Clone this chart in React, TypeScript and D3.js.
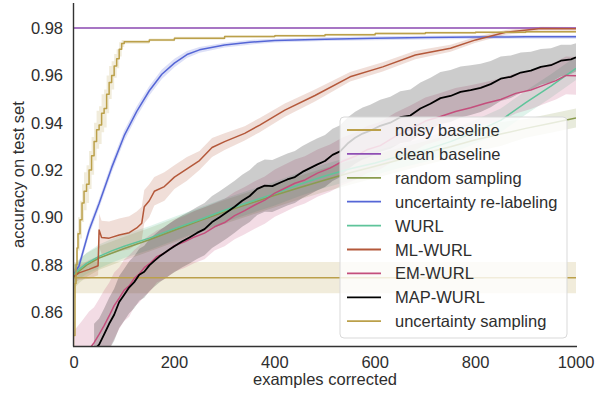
import React from "react";
import * as d3 from "d3";

type P = [number, number, number]; // [examples corrected, mean accuracy, half band width]

const X_TICKS = [0, 200, 400, 600, 800, 1000];
const Y_TICKS = [0.86, 0.88, 0.9, 0.92, 0.94, 0.96, 0.98];

const noisyBaseline: P[] = [[0, 0.8745, 0.0066], [1000, 0.8745, 0.0066]];
const cleanBaseline: P[] = [[0, 0.98, 0.0003], [1000, 0.98, 0.0003]];

const randomSampling: P[] = [
  [0, 0.8748, 0.005], [10, 0.8772, 0.005], [25, 0.8798, 0.005], [50, 0.8828, 0.005], [100, 0.8868, 0.005],
  [150, 0.8905, 0.005], [200, 0.8945, 0.005], [250, 0.8985, 0.005], [300, 0.9023, 0.005], [350, 0.9058, 0.005],
  [400, 0.9093, 0.005], [450, 0.9126, 0.005], [500, 0.9158, 0.005], [550, 0.9188, 0.005], [600, 0.9216, 0.005],
  [650, 0.9244, 0.005], [700, 0.9272, 0.005], [750, 0.9298, 0.005], [800, 0.9328, 0.005], [850, 0.9352, 0.005],
  [900, 0.9376, 0.004], [950, 0.9398, 0.004], [1000, 0.942, 0.004],
];

const uncertaintyRelabeling: P[] = [
  [0, 0.876, 0.002], [10, 0.8795, 0.002], [30, 0.8945, 0.002], [50, 0.9058, 0.002], [75, 0.921, 0.0022],
  [100, 0.9345, 0.0022], [125, 0.9448, 0.0022], [150, 0.9535, 0.002], [175, 0.9605, 0.002], [200, 0.9652, 0.0018],
  [225, 0.9688, 0.0015], [250, 0.9708, 0.0012], [300, 0.9728, 0.001], [350, 0.974, 0.001], [400, 0.9747, 0.0008],
  [500, 0.9753, 0.0008], [600, 0.9757, 0.0008], [700, 0.976, 0.0008], [800, 0.9762, 0.0008], [900, 0.9763, 0.0008],
  [1000, 0.9763, 0.0008],
];

const wurl: P[] = [
  [0, 0.876, 0.004], [10, 0.878, 0.004], [25, 0.8805, 0.0045], [50, 0.8835, 0.005], [75, 0.8858, 0.005],
  [100, 0.8878, 0.005], [150, 0.8912, 0.005], [200, 0.8952, 0.005], [250, 0.899, 0.005], [300, 0.903, 0.005],
  [350, 0.9065, 0.005], [400, 0.91, 0.005], [450, 0.914, 0.005], [500, 0.9175, 0.005], [550, 0.9205, 0.005],
  [600, 0.923, 0.005], [650, 0.926, 0.005], [700, 0.9285, 0.005], [750, 0.932, 0.005], [800, 0.9362, 0.005],
  [850, 0.941, 0.005], [900, 0.9485, 0.005], [950, 0.9555, 0.005], [1000, 0.963, 0.005],
];

const mlWurl: P[] = [
  [0, 0.875, 0.003], [10, 0.8765, 0.003], [30, 0.878, 0.004], [48, 0.8795, 0.004], [50, 0.8946, 0.007],
  [55, 0.8915, 0.007], [70, 0.8912, 0.007], [90, 0.8925, 0.007], [110, 0.8935, 0.007], [125, 0.8955, 0.007],
  [135, 0.8975, 0.007], [140, 0.9045, 0.007], [150, 0.907, 0.007], [160, 0.911, 0.006], [180, 0.913, 0.006],
  [200, 0.917, 0.005], [225, 0.9205, 0.005], [250, 0.924, 0.004], [275, 0.9295, 0.004], [300, 0.932, 0.0035],
  [340, 0.9355, 0.003], [370, 0.939, 0.003], [420, 0.9453, 0.0028], [480, 0.9515, 0.0025], [550, 0.9594, 0.002],
  [615, 0.9636, 0.002], [680, 0.9686, 0.0018], [750, 0.9715, 0.0015], [800, 0.975, 0.0012], [860, 0.9782, 0.001],
  [930, 0.9798, 0.0008], [1000, 0.9797, 0.0008],
];

const emWurl: P[] = [
  [0, 0.836, 0.016], [15, 0.84, 0.016], [30, 0.8442, 0.016], [40, 0.847, 0.015], [50, 0.8505, 0.015],
  [60, 0.8542, 0.015], [70, 0.8583, 0.014], [80, 0.8627, 0.014], [90, 0.8658, 0.013], [100, 0.8692, 0.013],
  [110, 0.871, 0.013], [120, 0.8742, 0.012], [130, 0.876, 0.012], [140, 0.8787, 0.012], [150, 0.8803, 0.012],
  [165, 0.8834, 0.011], [180, 0.8848, 0.011], [200, 0.888, 0.011], [220, 0.8896, 0.011], [240, 0.8917, 0.011],
  [260, 0.8933, 0.011], [280, 0.896, 0.01], [300, 0.8978, 0.01], [320, 0.9007, 0.01], [340, 0.9028, 0.01],
  [360, 0.9052, 0.01], [380, 0.9073, 0.01], [400, 0.9102, 0.01], [420, 0.9123, 0.01], [440, 0.9144, 0.01],
  [460, 0.9158, 0.01], [485, 0.9187, 0.01], [510, 0.9208, 0.01], [535, 0.9237, 0.01], [560, 0.9258, 0.01],
  [585, 0.9287, 0.01], [610, 0.9303, 0.01], [640, 0.9342, 0.01], [670, 0.9373, 0.01], [700, 0.9407, 0.01],
  [730, 0.9426, 0.01], [760, 0.9447, 0.01], [790, 0.9463, 0.0095], [820, 0.9482, 0.009], [850, 0.9498, 0.009],
  [880, 0.9524, 0.0085], [910, 0.9538, 0.008], [940, 0.9562, 0.008], [960, 0.9578, 0.008], [980, 0.96, 0.008],
  [1000, 0.9598, 0.008],
];

const mapWurl: P[] = [
  [40, 0.844, 0.011], [50, 0.8462, 0.011], [60, 0.8505, 0.011], [70, 0.855, 0.011], [80, 0.8588, 0.011],
  [90, 0.8642, 0.011], [100, 0.8673, 0.011], [110, 0.8704, 0.011], [120, 0.8726, 0.011], [130, 0.8757, 0.011],
  [140, 0.877, 0.011], [150, 0.8797, 0.011], [160, 0.8816, 0.011], [170, 0.8834, 0.011], [180, 0.8849, 0.011],
  [190, 0.8864, 0.011], [200, 0.8878, 0.011], [215, 0.8898, 0.011], [230, 0.8915, 0.011], [245, 0.8934, 0.011],
  [260, 0.895, 0.011], [275, 0.898, 0.011], [290, 0.9, 0.011], [305, 0.9022, 0.011], [320, 0.9045, 0.011],
  [335, 0.907, 0.011], [350, 0.909, 0.011], [365, 0.912, 0.011], [380, 0.9134, 0.011], [395, 0.9132, 0.011],
  [410, 0.9146, 0.011], [425, 0.916, 0.011], [440, 0.917, 0.011], [455, 0.9192, 0.011], [470, 0.9208, 0.011],
  [485, 0.9224, 0.011], [500, 0.9238, 0.011], [515, 0.9264, 0.011], [530, 0.9279, 0.011], [545, 0.9312, 0.011],
  [560, 0.9336, 0.011], [575, 0.9354, 0.011], [590, 0.9366, 0.011], [610, 0.9387, 0.011], [630, 0.94, 0.011],
  [650, 0.9423, 0.011], [670, 0.943, 0.011], [690, 0.946, 0.011], [710, 0.948, 0.011], [730, 0.9504, 0.011],
  [750, 0.9513, 0.011], [770, 0.953, 0.0108], [790, 0.9538, 0.0105], [810, 0.9547, 0.0102], [830, 0.9563, 0.0098],
  [850, 0.9586, 0.0094], [870, 0.9594, 0.009], [890, 0.9612, 0.0085], [910, 0.962, 0.008], [930, 0.9636, 0.0076],
  [950, 0.9643, 0.0072], [970, 0.9662, 0.0067], [990, 0.9668, 0.0062], [1000, 0.9676, 0.006],
];

const uncertaintySampling: P[] = [
  [0, 0.85, 0.006], [2, 0.872, 0.006], [4, 0.88, 0.006], [6, 0.887, 0.007], [8, 0.893, 0.007],
  [12, 0.899, 0.008], [16, 0.906, 0.008], [20, 0.911, 0.008], [25, 0.914, 0.008], [30, 0.92, 0.008],
  [35, 0.926, 0.008], [40, 0.932, 0.008], [45, 0.937, 0.008], [50, 0.939, 0.008], [55, 0.944, 0.008],
  [60, 0.946, 0.008], [65, 0.952, 0.008], [70, 0.957, 0.007], [75, 0.96, 0.006], [80, 0.964, 0.005],
  [85, 0.967, 0.004], [90, 0.971, 0.003], [95, 0.9735, 0.0015], [100, 0.9742, 0.0008], [150, 0.975, 0.0006],
  [200, 0.9757, 0.0006], [300, 0.9764, 0.0005], [400, 0.9768, 0.0005], [500, 0.9772, 0.0005], [600, 0.9777, 0.0005],
  [700, 0.978, 0.0005], [800, 0.9782, 0.0005], [900, 0.9784, 0.0005], [1000, 0.9786, 0.0005],
];

const NAMES = [
  "noisy baseline", "clean baseline", "random sampling", "uncertainty re-labeling", "WURL",
  "ML-WURL", "EM-WURL", "MAP-WURL", "uncertainty sampling",
];
const COLORS = ["#bba04a", "#8f4fb4", "#8a9c4f", "#5566d6", "#5ec49a", "#b4583a", "#c44e7c", "#000000", "#bba04a"];
const DATA = [noisyBaseline, cleanBaseline, randomSampling, uncertaintyRelabeling, wurl, mlWurl, emWurl, mapWurl, uncertaintySampling];

const FONT = "'Liberation Sans', Arial, sans-serif";
const TEXT = "#2e2e2e";

export default function App() {
  const W = 612, H = 396;
  const L = 74, R = 576, T = 3, B = 346;
  const x = d3.scaleLinear().domain([0, 1000]).range([L, R]);
  const y = d3.scaleLinear().domain([0.8456, 0.9906]).range([B, T]);

  const curveFor = (i: number) => (i === 8 ? d3.curveStepAfter : d3.curveLinear);
  const lineGen = (i: number) => d3.line<P>().x(d => x(d[0])).y(d => y(d[1])).curve(curveFor(i));
  const areaGen = (i: number) =>
    d3.area<P>().x(d => x(d[0])).y0(d => y(d[1] - d[2])).y1(d => y(d[1] + d[2])).curve(curveFor(i));

  const legX = 340, legY = 117, legW = 227, legH = 221;
  const rowY = (i: number) => 130 + i * 23.9;

  return (
    <svg width={W} height={H} style={{ position: "absolute", left: 0, top: 0, background: "#fff" }}>
      <defs>
        <clipPath id="plot">
          <rect x={L} y={T} width={R - L} height={B - T} />
        </clipPath>
      </defs>
      <rect x={0} y={0} width={W} height={H} fill="#fff" />
      <g clipPath="url(#plot)">
        {DATA.map((d, i) => (
          <path key={"a" + i} d={areaGen(i)(d) || ""} fill={COLORS[i]} fillOpacity={0.2} stroke="none" />
        ))}
        {DATA.map((d, i) => (
          <path key={"l" + i} d={lineGen(i)(d) || ""} fill="none" stroke={COLORS[i]}
            strokeWidth={i === 7 ? 1.8 : 1.5} strokeLinejoin="round" />
        ))}
      </g>
      <line x1={L - 0.5} x2={L - 0.5} y1={T} y2={B + 0.5} stroke="#333" strokeWidth={1.4} />
      <line x1={L - 1} x2={R + 1} y1={B + 0.5} y2={B + 0.5} stroke="#333" strokeWidth={1.4} />
      {Y_TICKS.map(t => (
        <text key={"y" + t} x={63} y={y(t) + 6} textAnchor="end" fontFamily={FONT} fontSize={16.5} fill={TEXT}>
          {t.toFixed(2)}
        </text>
      ))}
      {X_TICKS.map(t => (
        <text key={"x" + t} x={x(t)} y={368} textAnchor="middle" fontFamily={FONT} fontSize={16.5} fill={TEXT}>
          {t}
        </text>
      ))}
      <text x={(L + R) / 2} y={385} textAnchor="middle" fontFamily={FONT} fontSize={16.5} fill={TEXT}>
        examples corrected
      </text>
      <text transform={`translate(24,${(T + B) / 2}) rotate(-90)`} textAnchor="middle" fontFamily={FONT}
        fontSize={16.5} fill={TEXT}>
        accuracy on test set
      </text>
      <rect x={legX} y={legY} width={legW} height={legH} rx={4} fill="#fff" fillOpacity={0.8} stroke="#d9d9d9" strokeWidth={1} />
      {NAMES.map((n, i) => (
        <g key={"lg" + i}>
          <line x1={347} x2={381} y1={rowY(i)} y2={rowY(i)} stroke={COLORS[i]} strokeWidth={1.8} />
          <text x={395} y={rowY(i) + 6} fontFamily={FONT} fontSize={16.5} fill={TEXT}>{n}</text>
        </g>
      ))}
    </svg>
  );
}
